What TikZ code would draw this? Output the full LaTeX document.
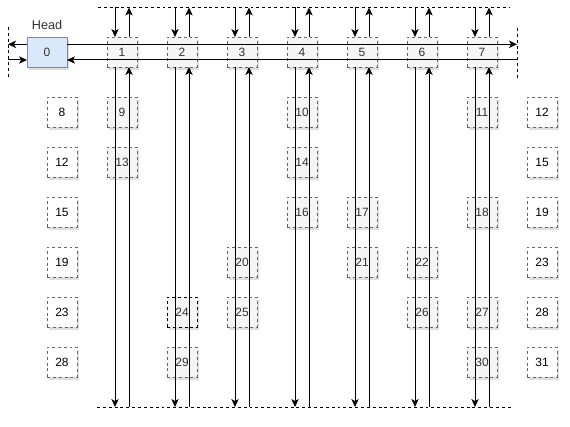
\documentclass[tikz,border=0pt]{standalone}
\usepackage{fontspec}
\setmainfont{Liberation Sans}
\usetikzlibrary{arrows.meta,positioning,shadows}
\definecolor{cellfill}{HTML}{F5F5F5}
\definecolor{celldraw}{HTML}{666666}
\definecolor{celltext}{HTML}{333333}
\definecolor{headfill}{HTML}{DAE8FC}
\definecolor{headdraw}{HTML}{6C8EBF}
\tikzset{
  cell/.style={
    draw=celldraw,fill=cellfill,text=celltext,dash pattern=on 2.2pt off 2.2pt,
    minimum width=22.5pt,minimum height=22.5pt,inner sep=0pt,outer sep=0pt,
    font=\fontsize{9}{11}\selectfont,
    drop shadow={shadow xshift=1.5pt,shadow yshift=-2pt,opacity=0.18,fill=black!70}
  },
  side/.style={cell,fill=white,text=black},
  headbox/.style={
    draw=headdraw,fill=headfill,text=celltext,
    minimum width=30pt,minimum height=22.5pt,inner sep=0pt,outer sep=0pt,
    font=\fontsize{9}{11}\selectfont,
    drop shadow={shadow xshift=1.5pt,shadow yshift=-2pt,opacity=0.18,fill=black!70}
  },
  link/.style={-{Stealth[length=6pt,width=5.5pt,inset=1.6pt]},line width=0.75pt},
  border/.style={dash pattern=on 2.2pt off 2.2pt,line width=0.75pt}
}

\begin{document}
\begin{tikzpicture}[x=0.75pt,y=-0.75pt]
\useasboundingbox (0,0) rectangle (570,427);

% list head and bucket row
\node[headbox] (head) at (47,52) {0};
\node[above=2pt of head,font=\fontsize{9.5}{11}\selectfont,text=celltext] (headlbl) {Head};

\node[cell,right=30pt of head] (c1) {1};
\node[cell,right=22.5pt of c1] (c2) {2};
\node[cell,right=22.5pt of c2] (c3) {3};
\node[cell,right=22.5pt of c3] (c4) {4};
\node[cell,right=22.5pt of c4] (c5) {5};
\node[cell,right=22.5pt of c5] (c6) {6};
\node[cell,right=22.5pt of c6] (c7) {7};

% left and right columns
\node[side] (l1) at (62,112) {8};
\node[side] (l2) at (62,162) {12};
\node[side] (l3) at (62,212) {15};
\node[side] (l4) at (62,262) {19};
\node[side] (l5) at (62,312) {23};
\node[side] (l6) at (62,362) {28};

\node[side] (r1) at (542,112) {12};
\node[side] (r2) at (542,162) {15};
\node[side] (r3) at (542,212) {19};
\node[side] (r4) at (542,262) {23};
\node[side] (r5) at (542,312) {28};
\node[side] (r6) at (542,362) {31};

% entries below the buckets
\node[cell] (n9)  at (122,112) {9};
\node[cell] (n10) at (302,112) {10};
\node[cell] (n11) at (482,112) {11};
\node[cell] (n13) at (122,162) {13};
\node[cell] (n14) at (302,162) {14};
\node[cell] (n16) at (302,212) {16};
\node[cell] (n17) at (362,212) {17};
\node[cell] (n18) at (482,212) {18};
\node[cell] (n20) at (242,262) {20};
\node[cell] (n21) at (362,262) {21};
\node[cell] (n22) at (422,262) {22};
\node[cell,draw=black] (n24) at (182,312) {24};
\node[cell] (n25) at (242,312) {25};
\node[cell] (n26) at (422,312) {26};
\node[cell] (n27) at (482,312) {27};
\node[cell] (n29) at (182,362) {29};
\node[cell] (n30) at (482,362) {30};

% dashed borders
\draw[border] (98,7.5) -- (510,7.5);
\draw[border] (97,407) -- (512,407);
\draw[border] (8,27) -- (8,77);
\draw[border] (517,28) -- (517,78);

% horizontal links
\coordinate (hl1) at (8,44.3);
\coordinate (hr1) at (517,44.3);
\coordinate (hl2) at (8,60);
\coordinate (hr2) at (517,60);
\draw[link] (head.west |- hl1) -- (hl1);
\draw[link] (head.east |- hr1) -- (hr1);
\draw[link] (hl2) -- (head.west |- hl2);
\draw[link] (hr2) -- (head.east |- hr2);

% vertical links
\foreach \i/\x in {1/122,2/182,3/242,4/302,5/362,6/422,7/482}{
  \coordinate (tin\i) at (\x-7,7.5);
  \coordinate (tout\i) at (\x+7,7.5);
  \coordinate (bout\i) at (\x-7,407);
  \coordinate (bin\i) at (\x+7,407);
  \draw[link] (tin\i) -- (tin\i |- c\i.north);
  \draw[link] (tout\i |- c\i.north) -- (tout\i);
  \draw[link] (bout\i |- c\i.south) -- (bout\i);
  \draw[link] (bin\i) -- (bin\i |- c\i.south);
}

\end{tikzpicture}
\end{document}
